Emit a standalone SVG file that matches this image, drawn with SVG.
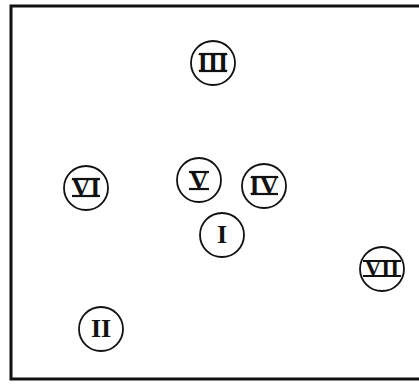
<svg xmlns="http://www.w3.org/2000/svg" width="419" height="384" viewBox="0 0 419 384">
<style>
.c{fill:none;stroke:#111;stroke-width:1.8}
.t{font-family:"Liberation Serif",serif;font-weight:bold;font-size:26px;fill:#111;text-anchor:middle}
.b{stroke:#111;stroke-width:2.2}
.f{fill:none;stroke:#111;stroke-width:3}
</style>
<rect width="419" height="384" fill="#fff"/>
<path class="f" d="M419,6 H11 V379 H419"/>
<g id="III"><circle class="c" cx="213" cy="63" r="22"/><text class="t" x="213" y="71">III</text><line class="b" x1="199" y1="54" x2="227" y2="54"/><line class="b" x1="199" y1="71" x2="227" y2="71"/></g>
<g id="VI"><circle class="c" cx="86" cy="188" r="22"/><text class="t" x="86" y="196">VI</text><line class="b" x1="72" y1="179" x2="100" y2="179"/><line class="b" x1="72" y1="196" x2="100" y2="196"/></g>
<g id="V"><circle class="c" cx="199" cy="180" r="22"/><text class="t" x="199" y="189">V</text><line class="b" x1="189" y1="172" x2="209" y2="172"/><line class="b" x1="189" y1="189" x2="209" y2="189"/></g>
<g id="IV"><circle class="c" cx="264" cy="186" r="22"/><text class="t" x="264" y="194">IV</text><line class="b" x1="251" y1="177" x2="278" y2="177"/><line class="b" x1="251" y1="194" x2="278" y2="194"/></g>
<g id="I"><circle class="c" cx="222" cy="235" r="22"/><text class="t" x="222" y="243">I</text></g>
<g id="VII"><circle class="c" cx="382" cy="269" r="22"/><text class="t" x="382" y="276" style="font-size:23px">VII</text><line class="b" x1="363" y1="261" x2="401" y2="261"/><line class="b" x1="363" y1="276" x2="401" y2="276"/></g>
<g id="II"><circle class="c" cx="101" cy="329" r="22"/><text class="t" x="101" y="337">II</text></g>
</svg>
